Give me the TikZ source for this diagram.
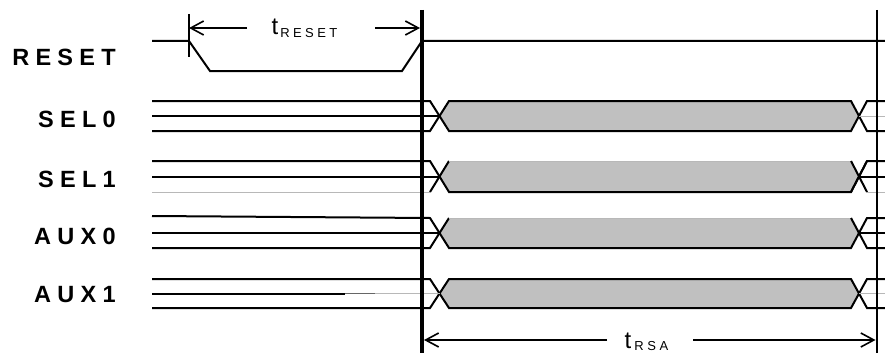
\documentclass[tikz,border=0pt]{standalone}
\usepackage{fontspec}
\setmainfont{Liberation Sans}
\usetikzlibrary{arrows.meta}
\definecolor{busgray}{HTML}{C0C0C0}
\definecolor{faintgray}{HTML}{B8B8B8}
\newcommand\lk{\kern6.3pt}
\newcommand\sk{\kern3.4pt}
\tikzset{
  sig/.style={line width=2pt, line join=miter},
  faint/.style={line width=1pt, draw=faintgray},
  busfill/.style={fill=busgray},
  barb/.style={-{Straight Barb[length=13pt,width=14pt,line width=1.6pt]}},
  lbl/.style={anchor=base east, inner sep=0pt, font=\fontsize{23.5}{23.5}\selectfont\bfseries},
  tlbl/.style={anchor=base west, inner sep=0pt},
}
\begin{document}
\begin{tikzpicture}[x=1pt,y=-1pt]
\useasboundingbox (0,0) rectangle (885,353);
% ---------- labels
\node[lbl] (lreset) at (116,66)  {R\lk E\lk S\lk E\lk T};
\node[lbl] (lsel0)  at (116,127) {S\lk E\lk L\lk 0};
\node[lbl] (lsel1)  at (116,187) {S\lk E\lk L\lk 1};
\node[lbl] (laux0)  at (116,244) {A\lk U\lk X\lk 0};
\node[lbl] (laux1)  at (116,302) {A\lk U\lk X\lk 1};
% ---------- RESET waveform
\draw[sig] (152,41)--(189,41)--(210,71)--(402,71)--(422,41)--(885,41);
% ---------- SEL0 (101/116/131)
\fill[busfill] (440,116)--(449,101)--(851,101)--(859,116)--(851,131)--(449,131)--cycle;
\draw[sig] (152,101)--(430,101)--(449,131)--(851,131)--(867,101)--(885,101);
\draw[sig] (152,131)--(430,131)--(449,101)--(851,101)--(867,131)--(885,131);
\draw[sig] (152,116)--(440,116);
\draw[faint] (859,116)--(885,116);
% ---------- SEL1 (161/177/192)
\fill[busfill] (440,176.5)--(449,161)--(851,161)--(859,176.5)--(851,192)--(449,192)--cycle;
\draw[sig] (152,161)--(430,161)--(449,192)--(851,192)--(867,161)--(885,161);
\draw[faint] (152,192)--(430,192);
\draw[sig] (430,192)--(449,161);
\draw[faint] (449,161)--(851,161);
\draw[sig] (851,192)--(867,161);
\draw[sig] (851,161)--(867,192);
\draw[faint] (867,192)--(885,192);
\draw[sig] (152,177)--(440,177);
\draw[sig] (859,177)--(885,177);
% ---------- AUX0 (218/233/248)
\fill[busfill] (440,233)--(449,218)--(851,218)--(859,233)--(851,248)--(449,248)--cycle;
\draw[sig] (152,216)--(430,218)--(449,248)--(851,248)--(867,218)--(885,218);
\draw[sig] (152,248)--(430,248)--(449,218);
\draw[faint] (449,218)--(851,218);
\draw[sig] (851,218)--(867,248)--(885,248);
\draw[sig] (152,233)--(440,233);
\draw[sig] (859,233)--(885,233);
% ---------- AUX1 (279/294/308)
\fill[busfill] (440,293.5)--(449,279)--(851,279)--(859,293.5)--(851,308)--(449,308)--cycle;
\draw[sig] (152,279)--(430,279)--(449,308)--(851,308)--(867,279)--(885,279);
\draw[sig] (152,308)--(430,308)--(449,279)--(851,279)--(867,308)--(885,308);
\draw[sig] (152,293.5)--(345,293.5);
\draw[line width=1.5pt, draw=black!60] (345,293.5)--(375,293.5);
\draw[faint] (375,293.5)--(440,293.5);
\draw[faint] (859,293.5)--(885,293.5);
% ---------- vertical reference lines
\coordinate (tk0) at (422,10);
\coordinate (tk1) at (422,353);
\coordinate (rv0) at (876.5,10);
\coordinate (rv1) at (876.5,353);
\draw[line width=4pt] (tk0)--(tk1);
\draw[sig] (rv0)--(rv1);
% ---------- t_RESET dimension
\coordinate (rt0) at (189,14);
\coordinate (rt1) at (189,57);
\draw[sig] (rt0)--(rt1);
\coordinate (ra) at (189,28);
\coordinate (rb) at (247,28);
\coordinate (rc) at (375,28);
\coordinate (rd) at (420,28);
\draw[sig,barb] (rb)--(ra);
\draw[sig,barb] (rc)--(rd);
\node[tlbl] (treset) at (271.5,35) {{\fontsize{24}{24}\selectfont t}\kern2pt\raisebox{-2.5pt}{\fontsize{13}{13}\selectfont R\sk E\sk S\sk E\sk T}};
% ---------- t_RSA dimension
\coordinate (sa) at (424,340);
\coordinate (sb) at (607,340);
\coordinate (sc) at (693,340);
\coordinate (sd) at (875.5,340);
\draw[sig,barb] (sb)--(sa);
\draw[sig,barb] (sc)--(sd);
\node[tlbl] (trsa) at (624.5,348.5) {{\fontsize{24}{24}\selectfont t}\kern3pt\raisebox{-2pt}{\fontsize{13}{13}\selectfont R\kern3.6pt S\kern3.6pt A}};
\end{tikzpicture}
\end{document}
